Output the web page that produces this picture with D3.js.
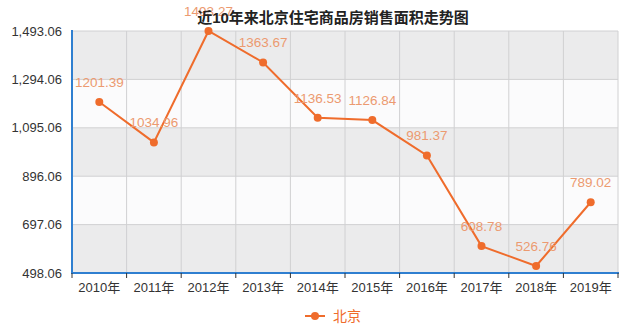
<!DOCTYPE html>
<html>
<head>
<meta charset="utf-8">
<script src="https://cdn.jsdelivr.net/npm/d3@7"></script>
<style>
  body { margin: 0; background: #fff; }
  svg { font-family: Arial, "Liberation Sans", "Noto Sans CJK SC", sans-serif; }
</style>
</head>
<body>
<svg id="chart" width="640" height="327"></svg>
<script>
let years = ['2010年', '2011年', '2012年', '2013年', '2014年', '2015年', '2016年', '2017年', '2018年', '2019年']
let values = [1201.39, 1034.96, 1493.27, 1363.67, 1136.53, 1126.84, 981.37, 608.78, 526.76, 789.02]
let yTicks = [498.06, 697.06, 896.06, 1095.06, 1294.06, 1493.06]
let seriesName = '北京'
let title = '近10年来北京住宅商品房销售面积走势图'

let chart = d3.select('#chart')
let plotLeft = 72, plotRight = 618, plotTop = 31, plotBottom = 273
let lineColor = '#ef6c2c'
let labelColor = '#ec9a70'
let axisColor = '#2f7fd0'

// scales
let xScale = d3.scaleBand()
    .domain(years)
    .range([plotLeft, plotRight])
let yScale = d3.scaleLinear()
    .domain([yTicks[0], yTicks[yTicks.length - 1]])
    .range([plotBottom, plotTop])

// alternating bands
let bands = chart.append('g')
for (let i = 0; i < yTicks.length - 1; i++) {
    bands.append('rect')
        .attr('x', plotLeft)
        .attr('y', yScale(yTicks[i + 1]))
        .attr('width', plotRight - plotLeft)
        .attr('height', yScale(yTicks[i]) - yScale(yTicks[i + 1]))
        .attr('fill', i % 2 == 0 ? '#ebebec' : '#fbfbfc')
}

// grid lines
chart.append('g')
    .selectAll('line')
    .data(yTicks)
    .enter()
    .append('line')
    .attr('x1', plotLeft).attr('x2', plotRight)
    .attr('y1', (d) => yScale(d)).attr('y2', (d) => yScale(d))
    .attr('stroke', '#d0d0d2')
chart.append('g')
    .selectAll('line')
    .data(years.slice(1).concat(['end']))
    .enter()
    .append('line')
    .attr('x1', (d) => d == 'end' ? plotRight : xScale(d))
    .attr('x2', (d) => d == 'end' ? plotRight : xScale(d))
    .attr('y1', plotTop).attr('y2', plotBottom)
    .attr('stroke', '#d0d0d2')

// y axis labels
chart.append('g')
    .selectAll('text')
    .data(yTicks)
    .enter()
    .append('text')
    .attr('x', plotLeft - 10)
    .attr('y', (d) => yScale(d) + 4.5)
    .attr('text-anchor', 'end')
    .attr('font-size', 13)
    .attr('fill', '#333')
    .text((d) => d3.format(',.2f')(d))

// axes lines
chart.append('line')
    .attr('x1', plotLeft).attr('x2', plotLeft)
    .attr('y1', plotTop - 1).attr('y2', plotBottom + 1)
    .attr('stroke', axisColor).attr('stroke-width', 2)
let axisBottom = d3.axisBottom(xScale).tickSize(0).tickPadding(10)
let xAxis = chart.append('g')
    .attr('transform', 'translate(0,' + plotBottom + ')')
    .call(axisBottom)
xAxis.select('.domain').remove()
xAxis.selectAll('text')
    .attr('font-size', 13)
    .attr('font-family', 'Arial, "Liberation Sans", "Noto Sans CJK SC", sans-serif')
    .attr('fill', '#333')
chart.append('line')
    .attr('x1', plotLeft - 1).attr('x2', plotRight + 1)
    .attr('y1', plotBottom).attr('y2', plotBottom)
    .attr('stroke', axisColor).attr('stroke-width', 2)
chart.append('g')
    .selectAll('line')
    .data(years.concat(['end']))
    .enter()
    .append('line')
    .attr('x1', (d) => d == 'end' ? plotRight : xScale(d))
    .attr('x2', (d) => d == 'end' ? plotRight : xScale(d))
    .attr('y1', plotBottom).attr('y2', plotBottom + 5)
    .attr('stroke', '#333')

// line + points
let cx = (d, i) => xScale(years[i]) + xScale.bandwidth() / 2
let line = d3.line()
    .x((d, i) => cx(d, i))
    .y((d) => yScale(d))
chart.append('path')
    .datum(values)
    .attr('d', line)
    .attr('fill', 'none')
    .attr('stroke', lineColor)
    .attr('stroke-width', 2)
chart.append('g')
    .selectAll('circle')
    .data(values)
    .enter()
    .append('circle')
    .attr('cx', cx)
    .attr('cy', (d) => yScale(d))
    .attr('r', 4)
    .attr('fill', lineColor)

// value labels
chart.append('g')
    .selectAll('text')
    .data(values)
    .enter()
    .append('text')
    .attr('x', cx)
    .attr('y', (d) => yScale(d) - 15)
    .attr('text-anchor', 'middle')
    .attr('font-size', 13.5)
    .attr('fill', labelColor)
    .text((d) => d.toFixed(2))

// title
chart.append('text')
    .attr('x', 333)
    .attr('y', 22.5)
    .attr('text-anchor', 'middle')
    .attr('font-size', 15)
    .attr('font-weight', 'bold')
    .attr('fill', '#222')
    .text(title)

// legend
let legend = chart.append('g').attr('transform', 'translate(305,316)')
legend.append('line')
    .attr('x1', 0).attr('x2', 20)
    .attr('stroke', lineColor).attr('stroke-width', 2)
legend.append('circle')
    .attr('cx', 10).attr('r', 4)
    .attr('fill', lineColor)
legend.append('text')
    .attr('x', 28).attr('y', 5)
    .attr('font-size', 14)
    .attr('fill', lineColor)
    .text(seriesName)
</script>
</body>
</html>
